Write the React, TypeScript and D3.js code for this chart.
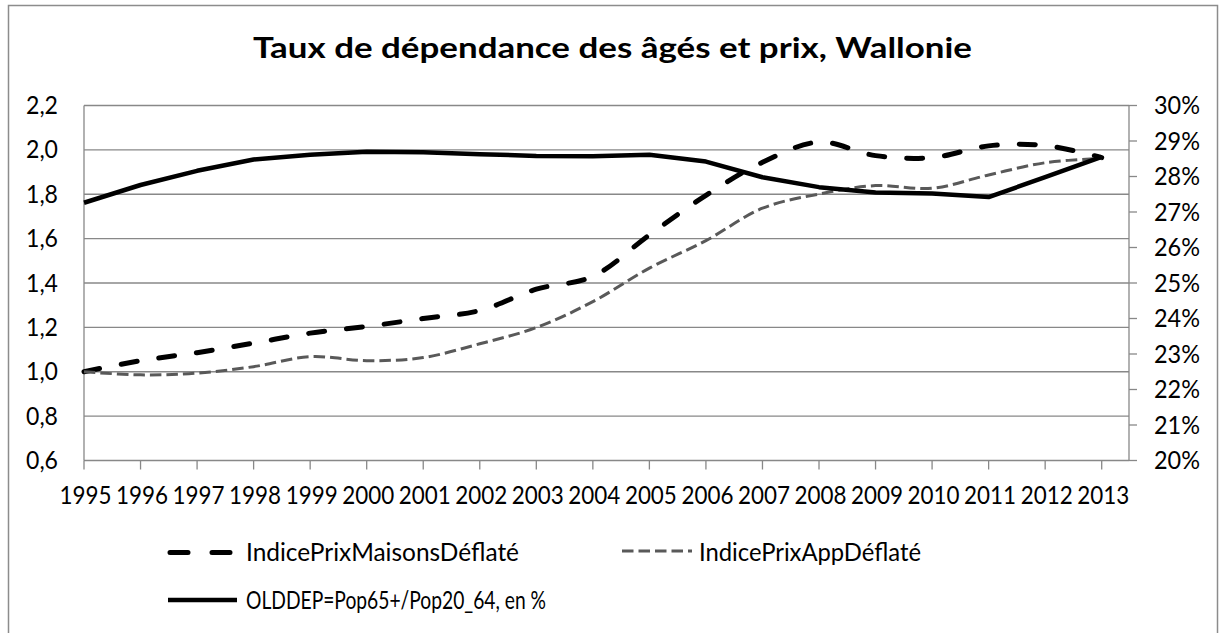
import React from "react";
import * as d3 from "d3";

const years = [1995,1996,1997,1998,1999,2000,2001,2002,2003,2004,2005,2006,2007,2008,2009,2010,2011,2012,2013];
const maisons = [1.00,1.05,1.086,1.129,1.174,1.204,1.24,1.276,1.372,1.43,1.617,1.795,1.944,2.035,1.974,1.965,2.018,2.02,1.965];
const apps = [1.00,0.986,0.994,1.023,1.068,1.05,1.064,1.126,1.199,1.316,1.467,1.591,1.737,1.801,1.839,1.827,1.887,1.942,1.962];
const olddep = [27.26,27.76,28.16,28.48,28.61,28.70,28.68,28.63,28.58,28.57,28.61,28.42,27.98,27.70,27.55,27.52,27.42,27.98,28.55];
const leftTicks = [0.6,0.8,1.0,1.2,1.4,1.6,1.8,2.0,2.2];
const rightTicks = [20,21,22,23,24,25,26,27,28,29,30];
const title = "Taux de dépendance des âgés et prix, Wallonie";
const seriesNames = ["IndicePrixMaisonsDéflaté","IndicePrixAppDéflaté","OLDDEP=Pop65+/Pop20_64, en %"];

const W = 1224, H = 633;
const L = 84, R = 1129, T = 105.5, B = 460.5;
const GRID = "#888888";
const FONT = "Lato, 'Open Sans', sans-serif";
const FS = 24.5;

export default function App() {
  const x = d3.scaleLinear().domain([1995, 2013]).range([L, 1101.7]);
  const yL = d3.scaleLinear().domain([0.6, 2.2]).range([B, T]);
  const yR = d3.scaleLinear().domain([20, 30]).range([B, T]);
  const fmtL = (v: number) => d3.format(".1f")(v).replace(".", ",");

  const lineL = d3.line<number>().x((_, i) => x(years[i])).y(d => yL(d)).curve(d3.curveCatmullRom);
  const lineR = d3.line<number>().x((_, i) => x(years[i])).y(d => yR(d));

  return (
    <svg width={W} height={H} style={{ position: "absolute", left: 0, top: 0, background: "#fff" }} fontFamily={FONT}>
      <rect x={0} y={0} width={W} height={H} fill="#fff" />
      <rect x={8.5} y={5.5} width={1209} height={650} fill="none" stroke="#8c8c8c" strokeWidth={1.5} />
      <text x={612.5} y={57.5} textAnchor="middle" fontWeight="bold" fontSize={28} fill="#000" textLength={719} lengthAdjust="spacingAndGlyphs">{title}</text>

      {leftTicks.filter(v => v > 0.6).map(v => (
        <line key={"g" + v} x1={L} x2={R} y1={yL(v)} y2={yL(v)} stroke={GRID} strokeWidth={1.3} />
      ))}
      <line x1={L} x2={L} y1={T} y2={B} stroke={GRID} strokeWidth={1.3} />
      <line x1={R} x2={R} y1={T} y2={B} stroke={GRID} strokeWidth={1.3} />
      <line x1={L} x2={R} y1={B} y2={B} stroke={GRID} strokeWidth={1.3} />
      {years.map(yr => (
        <line key={"t" + yr} x1={x(yr)} x2={x(yr)} y1={B} y2={B + 9} stroke={GRID} strokeWidth={1.3} />
      ))}
      {rightTicks.map(v => (
        <line key={"rt" + v} x1={R} x2={R + 8} y1={yR(v)} y2={yR(v)} stroke={GRID} strokeWidth={1.3} />
      ))}

      {leftTicks.map(v => (
        <text key={"ll" + v} x={58} y={yL(v) + 8.6} textAnchor="end" fontSize={FS} fill="#000" textLength={32} lengthAdjust="spacingAndGlyphs">{fmtL(v)}</text>
      ))}
      {rightTicks.map(v => (
        <text key={"rl" + v} x={1154} y={yR(v) + 8.6} textAnchor="start" fontSize={FS} fill="#000" textLength={46} lengthAdjust="spacingAndGlyphs">{v + "%"}</text>
      ))}
      {years.map(yr => (
        <text key={"yl" + yr} x={x(yr) + 1.5} y={503.5} textAnchor="middle" fontSize={FS} fill="#000" textLength={52} lengthAdjust="spacingAndGlyphs">{yr}</text>
      ))}

      <path d={lineL(maisons) || ""} fill="none" stroke="#000" strokeWidth={5} strokeDasharray="16,22" strokeLinecap="round" />
      <path d={lineL(apps) || ""} fill="none" stroke="#595959" strokeWidth={3} strokeDasharray="11.5,5" />
      <path d={lineR(olddep) || ""} fill="none" stroke="#000" strokeWidth={4.5} strokeLinejoin="round" />

      <line x1={170} x2={232} y1={552.5} y2={552.5} stroke="#000" strokeWidth={5} strokeDasharray="18,24" strokeLinecap="round" />
      <text x={246} y={560.5} fontSize={FS} fill="#000" textLength={273} lengthAdjust="spacingAndGlyphs">{seriesNames[0]}</text>
      <line x1={622} x2={692} y1={551} y2={551} stroke="#595959" strokeWidth={3} strokeDasharray="11.5,5" />
      <text x={699} y={560.5} fontSize={FS} fill="#000" textLength={222} lengthAdjust="spacingAndGlyphs">{seriesNames[1]}</text>
      <line x1={168} x2={237} y1={600} y2={600} stroke="#000" strokeWidth={4.5} />
      <text x={246} y={608.5} fontSize={FS} fill="#000" textLength={300} lengthAdjust="spacingAndGlyphs">{seriesNames[2]}</text>
    </svg>
  );
}
